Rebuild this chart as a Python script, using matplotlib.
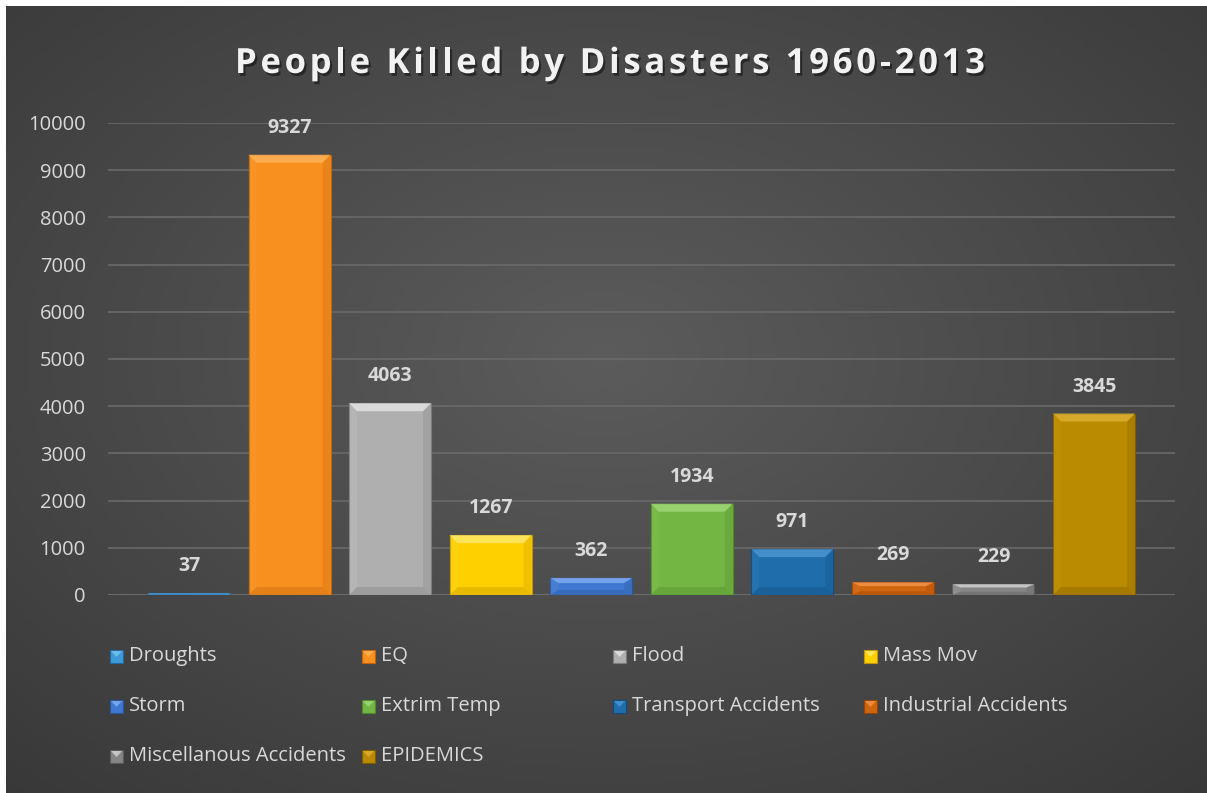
import numpy as np
import matplotlib
matplotlib.use("Agg")
import matplotlib.pyplot as plt
import matplotlib.patheffects as pe
from matplotlib.patches import Polygon, Rectangle

# data
categories = ["Droughts", "EQ", "Flood", "Mass Mov", "Storm", "Extrim Temp",
              "Transport Accidents", "Industrial Accidents",
              "Miscellanous Accidents", "EPIDEMICS"]
deaths = [37, 9327, 4063, 1267, 362, 1934, 971, 269, 229, 3845]
title = "People Killed by Disasters 1960-2013"

# face, light bevel, dark bevel
face = ["#3C9AD8", "#F7901E", "#AFAFAF", "#FFD000", "#3F78D0", "#74B644",
        "#1F6DAB", "#D0650F", "#858585", "#BA8B00"]
light = ["#7CC4F0", "#FFB25A", "#E6E6E6", "#FFE870", "#80AEF2", "#A2D97A",
         "#4E97D2", "#F2964E", "#D6D6D6", "#DDB236"]
dark = ["#24689E", "#BE640E", "#7C7C7C", "#C29500", "#2A5598", "#4F8A2A",
        "#134C7C", "#944406", "#595959", "#7C5E00"]

W, H = 1207, 793
fig = plt.figure(figsize=(W / 100, H / 100), dpi=100)
fig.patch.set_facecolor("#3A3A3A")

# dark gradient background
bg = fig.add_axes([0, 0, 1, 1])
yy, xx = np.mgrid[0:1:200j, 0:1:300j]
r = np.sqrt(((xx - 0.5) / 0.75) ** 2 + ((yy - 0.45) / 0.75) ** 2)
shade = 0.36 - 0.14 * np.clip(r, 0, 1)
bg.imshow(np.dstack([shade] * 3), aspect="auto", extent=[0, 1, 0, 1])
bg.set_xlim(0, 1)
bg.set_ylim(0, 1)
bg.set_axis_off()
# white strips on top and left like the screenshot
fig.add_artist(Rectangle((0, 0), 6 / W, 1, facecolor="white", edgecolor="none",
                         transform=fig.transFigure, zorder=10))
fig.add_artist(Rectangle((0, 1 - 6 / H), 1, 6 / H, facecolor="white", edgecolor="none",
                         transform=fig.transFigure, zorder=10))

ax = fig.add_axes([108 / W, 1 - 595 / H, 1067 / W, (595 - 123) / H])
ax.set_facecolor("none")
x = np.arange(len(categories))
bw = 0.815
bars = ax.bar(x, deaths, width=bw, color=face, edgecolor=dark, linewidth=0.8, zorder=3)

# bevel look
px_y = 10000 / (595 - 123)
px_x = 1 / 100.6
for b, lc, dc in zip(bars, light, dark):
    x0, w, h = b.get_x(), b.get_width(), b.get_height()
    by = min(8 * px_y, h * 0.3)
    bx = min(8 * px_x, w * 0.3) if h > 4 * px_y else 0.01
    top = Polygon([(x0, h), (x0 + w, h), (x0 + w - bx, h - by), (x0 + bx, h - by)],
                  closed=True, facecolor=lc, edgecolor="none", alpha=0.8, zorder=4)
    bot = Polygon([(x0, 0), (x0 + w, 0), (x0 + w - bx, by), (x0 + bx, by)],
                  closed=True, facecolor=dc, edgecolor="none", alpha=0.35, zorder=4)
    lft = Polygon([(x0, 0), (x0 + bx, by), (x0 + bx, h - by), (x0, h)],
                  closed=True, facecolor=lc, edgecolor="none", alpha=0.12, zorder=4)
    rgt = Polygon([(x0 + w, 0), (x0 + w - bx, by), (x0 + w - bx, h - by), (x0 + w, h)],
                  closed=True, facecolor=dc, edgecolor="none", alpha=0.25, zorder=4)
    for p in (top, bot, lft, rgt):
        ax.add_patch(p)
    ax.text(b.get_x() + w / 2, h + 27 * px_y, f"{int(h)}", ha="center", va="center",
            color="#D9D9D9", fontsize=14, fontweight="bold", family="Open Sans",
            zorder=5, clip_on=False)

ax.set_xlim(-0.805, 9.805)
ax.set_ylim(0, 10000)
ax.set_yticks(np.arange(0, 10001, 1000))
ax.set_xticks([])
ax.grid(axis="y", color="#6A6A6A", linewidth=1.2, zorder=0)
for s in ax.spines.values():
    s.set_visible(False)
ax.axhline(0, color="#707070", linewidth=1.5, zorder=1)
ax.tick_params(axis="y", length=0, pad=16, labelsize=14.5, labelcolor="#D9D9D9")
for t in ax.get_yticklabels():
    t.set_family("Open Sans")

# title with letter spacing, drawn char by char
renderer = fig.canvas.get_renderer()
tkw = dict(fontsize=25, fontweight="bold", family="Open Sans")


def text_w(s):
    t = fig.text(0, 0, s + "|", **tkw)
    w1 = t.get_window_extent(renderer).width
    t.remove()
    t = fig.text(0, 0, "|", **tkw)
    w2 = t.get_window_extent(renderer).width
    t.remove()
    return w1 - w2


full_w = text_w(title)
target_w = 750
track = (target_w - full_w) / (len(title) - 1)
x_start = 610 - target_w / 2
shadow = [pe.withSimplePatchShadow(offset=(1.5, -2), shadow_rgbFace="black", alpha=0.45)]
for i, ch in enumerate(title):
    if ch == " ":
        continue
    xp = x_start + text_w(title[:i]) + i * track
    fig.text(xp / W, 1 - 73 / H, ch, ha="left", va="baseline", color="#F2F2F2",
             path_effects=shadow, **tkw)

# legend, 4 equal columns like Excel
col_x = [110, 362, 613, 864]
row_y = [656, 706, 756]
for i, (name, fc, lc, dc) in enumerate(zip(categories, face, light, dark)):
    cx = col_x[i % 4]
    cy = row_y[i // 4]
    fig.add_artist(Rectangle((cx / W, 1 - (cy + 7) / H), 13 / W, 13 / H,
                             facecolor=fc, edgecolor=dc, linewidth=0.8,
                             transform=fig.transFigure))
    # small bevel highlight on the marker
    fig.add_artist(Polygon([((cx + 1) / W, 1 - (cy - 5) / H), ((cx + 12) / W, 1 - (cy - 5) / H),
                            ((cx + 6.5) / W, 1 - (cy + 1) / H)], closed=True,
                           facecolor=lc, edgecolor="none", alpha=0.8,
                           transform=fig.transFigure))
    fig.text((cx + 19) / W, 1 - cy / H, name, ha="left", va="center",
             color="#D9D9D9", fontsize=14.5, family="Open Sans")

fig.savefig("out.png", dpi=100)
